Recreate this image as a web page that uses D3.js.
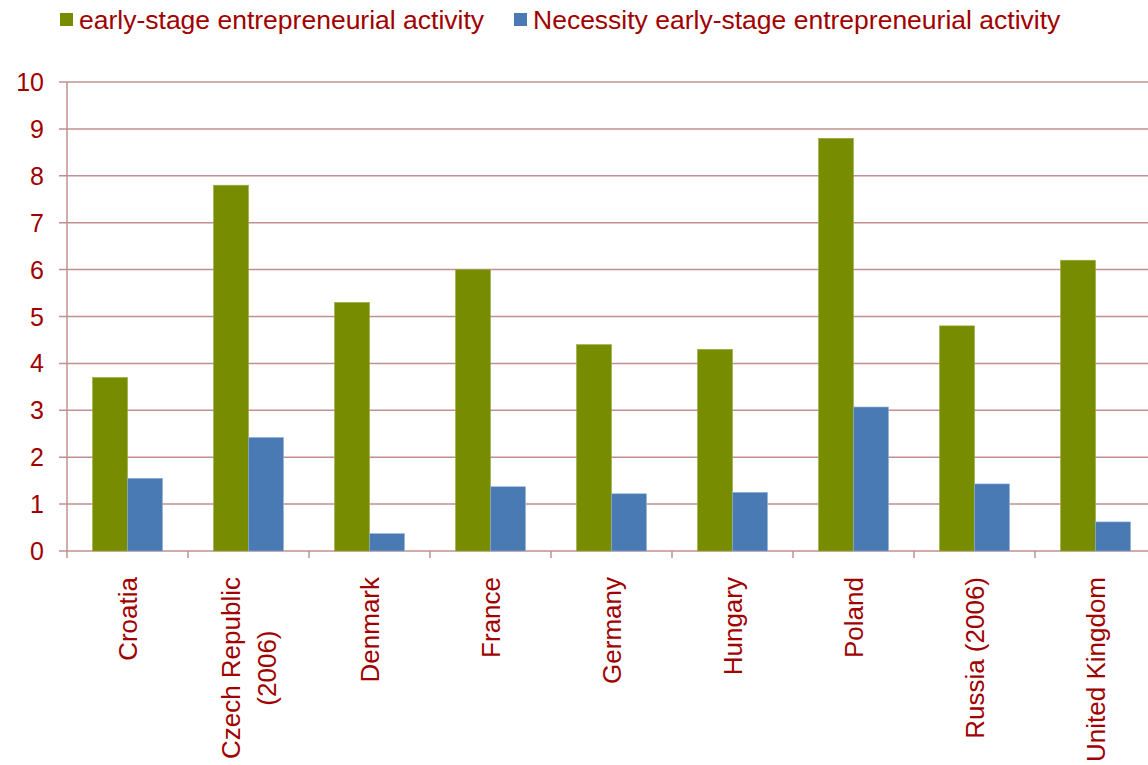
<!DOCTYPE html>
<html>
<head>
<meta charset="utf-8">
<script src="https://cdn.jsdelivr.net/npm/d3@7"></script>
<style>
  body { margin: 0; background: #fff; }
  svg text { font-family: "Liberation Sans", Arial, sans-serif; fill: #a00000; }
</style>
</head>
<body>
<svg id="chart" width="1148" height="765"></svg>
<script>
// ===== data =====
var countries = [
  ["Croatia"], ["Czech Republic", "(2006)"], ["Denmark"], ["France"], ["Germany"],
  ["Hungary"], ["Poland"], ["Russia (2006)"], ["United Kingdom"]
];
var seriesNames = ["early-stage entrepreneurial activity", "Necessity early-stage entrepreneurial activity"];
var earlyStage = [3.7, 7.8, 5.3, 6.0, 4.4, 4.3, 8.8, 4.8, 6.2];
var necessity  = [1.55, 2.42, 0.37, 1.37, 1.22, 1.25, 3.07, 1.43, 0.62];
var yTicks = [0, 1, 2, 3, 4, 5, 6, 7, 8, 9, 10];

var COLOURS = { early: "#788c00", necessity: "#4a7ab4", grid: "#c09090", text: "#a00000" };

var svg = d3.select("#chart");
var plotLeft = 67, plotRight = 1156, plotTop = 82, plotBottom = 551;

var keys = countries.map(function(d, i) { return i; });
var x = d3.scaleBand().domain(keys).range([plotLeft, plotRight]).paddingInner(0).paddingOuter(0);
var xInner = d3.scaleBand().domain([0, 1]).range([0, x.bandwidth()]).paddingInner(0).paddingOuter(0.73);
var y = d3.scaleLinear().domain([0, 10]).range([plotBottom, plotTop]);

// Gridlines
svg.append("g").selectAll("line").data(yTicks).join("line")
  .attr("x1", plotLeft - 8).attr("x2", plotRight)
  .attr("y1", function(d) { return y(d); }).attr("y2", function(d) { return y(d); })
  .attr("stroke", COLOURS.grid).attr("stroke-width", 1.5);

// Y axis line + labels
svg.append("line").attr("x1", plotLeft).attr("x2", plotLeft).attr("y1", plotTop).attr("y2", plotBottom + 7)
  .attr("stroke", COLOURS.grid).attr("stroke-width", 1.5);
svg.append("g").selectAll("text").data(yTicks).join("text")
  .attr("x", 44).attr("y", function(d) { return y(d); }).attr("dy", "0.36em")
  .attr("text-anchor", "end").attr("font-size", 25).text(function(d) { return d; });

// Category ticks below axis
svg.append("g").selectAll("line").data(keys.slice(1)).join("line")
  .attr("x1", function(d) { return x(d); }).attr("x2", function(d) { return x(d); })
  .attr("y1", plotBottom).attr("y2", plotBottom + 7)
  .attr("stroke", COLOURS.grid).attr("stroke-width", 1.5);

// Bars
var groups = svg.append("g").selectAll("g").data(keys).join("g")
  .attr("transform", function(d) { return "translate(" + x(d) + ",0)"; });
groups.append("rect")
  .attr("x", xInner(0)).attr("width", xInner.bandwidth())
  .attr("y", function(d) { return y(earlyStage[d]); })
  .attr("height", function(d) { return y(0) - y(earlyStage[d]); })
  .attr("fill", COLOURS.early).attr("stroke", "#9aab40").attr("stroke-width", 0.6);
groups.append("rect")
  .attr("x", xInner(1)).attr("width", xInner.bandwidth())
  .attr("y", function(d) { return y(necessity[d]); })
  .attr("height", function(d) { return y(0) - y(necessity[d]); })
  .attr("fill", COLOURS.necessity).attr("stroke", "#8fb0d8").attr("stroke-width", 0.6);

// Category labels (rotated, multi-line block centred, starting just below the axis)
groups.each(function(d) {
  var lines = countries[d];
  var cx = x.bandwidth() / 2;
  var g = d3.select(this);
  var texts = lines.map(function(t, j) {
    var off = (j - (lines.length - 1) / 2) * 36;
    return g.append("text")
      .attr("dy", "0.36em").attr("text-anchor", "middle").attr("font-size", 26)
      .attr("data-off", off)
      .text(t);
  });
  var maxLen = d3.max(texts, function(t) { return t.node().getComputedTextLength(); });
  texts.forEach(function(t) {
    t.attr("transform", "translate(" + (cx + (+t.attr("data-off"))) + "," + (577 + maxLen / 2) + ") rotate(-90)");
  });
});

// Legend
var legend = [
  { name: seriesNames[0], colour: COLOURS.early, x: 60 },
  { name: seriesNames[1], colour: COLOURS.necessity, x: 514 }
];
var lg = svg.append("g").selectAll("g").data(legend).join("g")
  .attr("transform", function(d) { return "translate(" + d.x + ",0)"; });
lg.append("rect").attr("x", 0).attr("y", 13).attr("width", 13).attr("height", 13)
  .attr("fill", function(d) { return d.colour; });
lg.append("text").attr("x", 19).attr("y", 19).attr("dy", "0.36em").attr("font-size", 26.5)
  .text(function(d) { return d.name; });
</script>
</body>
</html>
